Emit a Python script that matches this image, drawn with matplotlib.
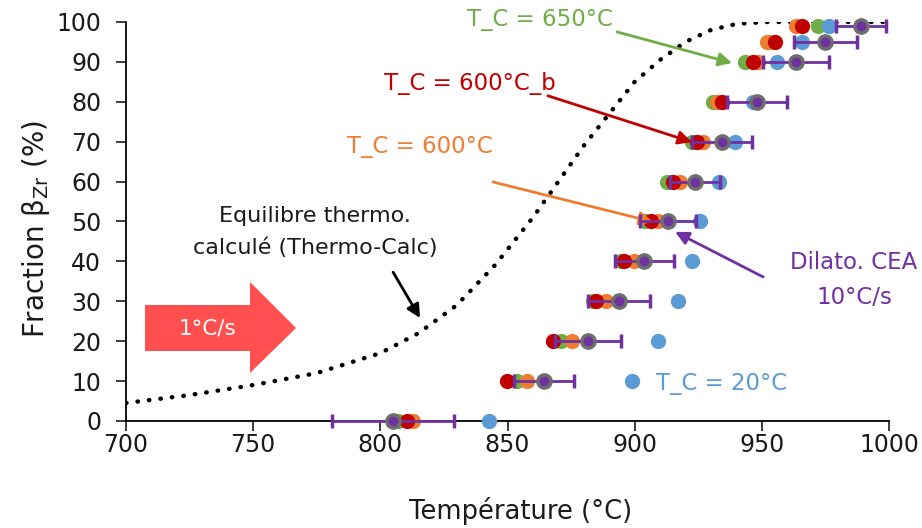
import matplotlib
matplotlib.use('Agg')
import matplotlib.pyplot as plt
from matplotlib.patches import Polygon

plt.rcParams['font.family'] = ['DejaVu Sans']
plt.rcParams['mathtext.fontset'] = 'dejavusans'

# niveaux de fraction beta (%)
frac = [0, 10, 20, 30, 40, 50, 60, 70, 80, 90, 95, 99]

# températures lues (°C)
t_650 = [807, 853.8, 871.1, 883.6, 894.6, 904.1, 912.7, 922.6, 930.8, 943.4, 953, 972.1]
t_600 = [812.9, 857.7, 875.4, 888.8, 899.8, 909.2, 917.8, 926.9, 932.5, 948.5, 952, 963.5]
t_600b = [810.5, 849.8, 867.9, 884.8, 895.8, 906.4, 915.1, 924.5, 934.4, 946.6, 955.2, 965.8]
t_20 = [842.7, 899, 909.2, 917, 922.6, 925.7, 933.2, 939.5, 946.6, 956, 965.8, 976.4]
t_dil = [805, 864.4, 881.7, 893.9, 903.7, 913.1, 923.7, 934.4, 948.1, 963.5, 974.9, 989]
err_dil = [24, 11.8, 13, 12.2, 11.6, 11.2, 10, 11.8, 11.8, 13, 12.4, 9.8]

# équilibre Thermo-Calc
eq_t = [700, 725, 750, 775, 800, 815, 830, 845, 860, 870, 880, 890, 900, 910, 920, 930, 940, 952, 1000]
eq_f = [4.5, 6.5, 9, 12, 17, 22, 29, 39, 51, 60, 69, 77, 85, 90.5, 95, 98, 99.5, 100, 100]

c_green = '#70AD47'
c_orange = '#ED7D31'
c_red = '#C00000'
c_blue = '#5B9BD5'
c_purple = '#7030A0'

fig = plt.figure(figsize=(9.22, 5.28), dpi=100)
ax = fig.add_axes([0.1367, 0.2027, 0.8275, 0.7557])

ax.plot(eq_t, eq_f, color='black', lw=3.2, linestyle=(0, (0.1, 2.5)),
        dash_capstyle='round', zorder=2)

ms = 11
ax.plot(t_650, frac, 'o', color=c_green, ms=ms, mec='none', clip_on=False, zorder=3)
ax.plot(t_600, frac, 'o', color=c_orange, ms=ms, mec='none', clip_on=False, zorder=3)
ax.plot(t_600b, frac, 'o', color=c_red, ms=ms, mec='none', clip_on=False, zorder=3)
ax.plot(t_20, frac, 'o', color=c_blue, ms=ms, mec='none', clip_on=False, zorder=3)
ax.errorbar(t_dil, frac, xerr=err_dil, fmt='o', color=c_purple, ms=9.5, mfc=c_purple,
            mec='#6E6E6E', mew=2.5, ecolor=c_purple, elinewidth=2, capsize=5,
            capthick=2, clip_on=False, zorder=4)

ax.set_xlim(700, 1000)
ax.set_ylim(0, 100)
ax.set_xticks(range(700, 1001, 50))
ax.set_yticks(range(0, 101, 10))
ax.tick_params(labelsize=17, direction='out', length=7, width=1.2, colors='#1a1a1a')
ax.tick_params(axis='y', pad=11)
ax.tick_params(axis='x', pad=2)
for s in ['top', 'right']:
    ax.spines[s].set_visible(False)
for s in ['left', 'bottom']:
    ax.spines[s].set_linewidth(1.3)

ax.set_xlabel('Température (°C)', fontsize=18.5, color='#1a1a1a')
ax.set_ylabel(r'Fraction β$_{\mathrm{Zr}}$ (%)', fontsize=20, color='#1a1a1a')
ax.xaxis.set_label_coords(0.517, -0.19)
ax.yaxis.set_label_coords(-0.097, 0.482)

fs = 16.5
aw = dict(arrowstyle='-|>', lw=2, mutation_scale=20, shrinkA=0, shrinkB=0)
ax.text(862.8, 100.5, 'T_C = 650°C', color=c_green, fontsize=fs, ha='center', va='center')
ax.annotate('', xy=(938.3, 89.7), xytext=(893.1, 97.5),
            arrowprops=dict(aw, color=c_green))
ax.text(835.3, 84.5, 'T_C = 600°C_b', color=c_red, fontsize=fs, ha='center', va='center')
ax.annotate('', xy=(922.5, 69.9), xytext=(865.9, 81.5),
            arrowprops=dict(aw, color=c_red))
ax.text(815.6, 68.7, 'T_C = 600°C', color=c_orange, fontsize=fs, ha='center', va='center')
ax.annotate('', xy=(907.2, 49.9), xytext=(844.3, 59.9),
            arrowprops=dict(aw, color=c_orange))
ax.text(986.2, 35.3, 'Dilato. CEA\n10°C/s', color=c_purple, fontsize=fs, ha='center',
        va='center', linespacing=1.65, clip_on=False)
ax.annotate('', xy=(915.9, 47.4), xytext=(950.5, 36.1),
            arrowprops=dict(aw, color=c_purple))
ax.text(934.3, 9.5, 'T_C = 20°C', color=c_blue, fontsize=fs, ha='center', va='center')
ax.text(774.3, 47.4, 'Equilibre thermo.\ncalculé (Thermo-Calc)', color='#1a1a1a',
        fontsize=16, ha='center', va='center', linespacing=1.7)
ax.annotate('', xy=(815.6, 25.8), xytext=(805, 37.3),
            arrowprops=dict(aw, color='black'))

# grosse flèche 1°C/s
arrow = Polygon([(0.0249, 0.2907), (0.1625, 0.2907), (0.1625, 0.3484), (0.2228, 0.2331),
                 (0.1625, 0.1203), (0.1625, 0.1754), (0.0249, 0.1754)],
                closed=True, transform=ax.transAxes, facecolor='#FF4F4F',
                edgecolor='none', zorder=2)
ax.add_patch(arrow)
ax.text(0.107, 0.233, '1°C/s', transform=ax.transAxes, color='white', fontsize=15.5,
        ha='center', va='center')

fig.savefig('out.png', dpi=100)
